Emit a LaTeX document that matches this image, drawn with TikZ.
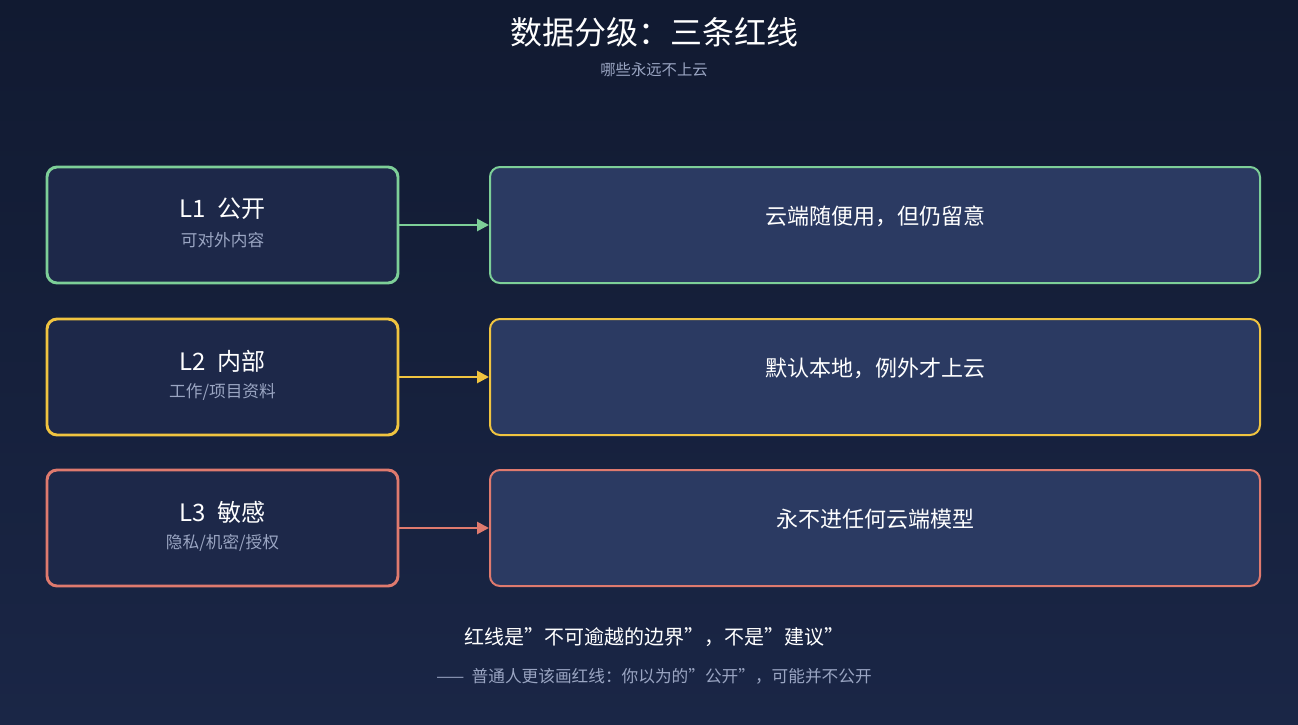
\documentclass[tikz,border=0pt]{standalone}
\usepackage{fontspec}
\setmainfont{Noto Sans CJK SC}
\usetikzlibrary{arrows.meta}
\definecolor{bgtop}{HTML}{111A31}
\definecolor{bgbot}{HTML}{1A2646}
\definecolor{lbox}{HTML}{1D2849}
\definecolor{rbox}{HTML}{2B3A62}
\definecolor{cg}{HTML}{7DCF98}
\definecolor{cy}{HTML}{F0C440}
\definecolor{cr}{HTML}{DF7A6E}
\definecolor{sub}{HTML}{9AA5C2}
\newcommand{\qq}{\symbol{34}}
\begin{document}
\begin{tikzpicture}[x=0.75pt,y=-0.75pt,
  lb/.style={draw=#1,line width=2.2pt,fill=lbox,rounded corners=7.5pt,minimum width=351*0.75pt,minimum height=116*0.75pt,inner sep=0pt},
  rb/.style={draw=#1,line width=1.5pt,fill=rbox,rounded corners=7.5pt,minimum width=770*0.75pt,minimum height=116*0.75pt,inner sep=0pt},
  ar/.style={draw=#1,line width=2pt,-{Triangle[length=9pt,width=9pt]}},
  tt/.style={text=white,font=\fontsize{18}{20}\selectfont},
  st/.style={text=sub,font=\fontsize{12.5}{14}\selectfont},
  rt/.style={text=white,font=\fontsize{16.5}{19}\selectfont}]
\shade[top color=bgtop,bottom color=bgbot] (0,0) rectangle (1298,724);
\useasboundingbox (0,0) rectangle (1298,724);
\node[text=white,font=\fontsize{24}{26}\selectfont] (title) at (654,32) {数据分级：三条红线};
\node[st,font=\fontsize{11.5}{13}\selectfont] (subt) at (654,70) {哪些永远不上云};
\foreach \i/\c/\a/\b/\r [count=\n] in {225/cg/{L1\ \ 公开}/{可对外内容}/{云端随便用，但仍留意},377/cy/{L2\ \ 内部}/{工作/项目资料}/{默认本地，例外才上云},528/cr/{L3\ \ 敏感}/{隐私/机密/授权}/{永不进任何云端模型}}{
  \node[lb=\c] (l\n) at (222.5,\i) {};
  \node[rb=\c] (r\n) at (875,\i) {};
  \node[tt] (lt\n) at (222.5,\i-16) {\a};
  \node[st] (ls\n) at (222.5,\i+15) {\b};
  \node[rt] (rt\n) at (875,\i-9) {\r};
  \draw[ar=\c] (l\n.east) -- (r\n.west);
}
\node[text=white,font=\fontsize{15}{17}\selectfont] (b1) at (654,637) {红线是\qq 不可逾越的边界\qq ，不是\qq 建议\qq};
\node[st] (b2) at (654,676) {——\ \ 普通人更该画红线：你以为的\qq 公开\qq ，可能并不公开};
\end{tikzpicture}
\end{document}
